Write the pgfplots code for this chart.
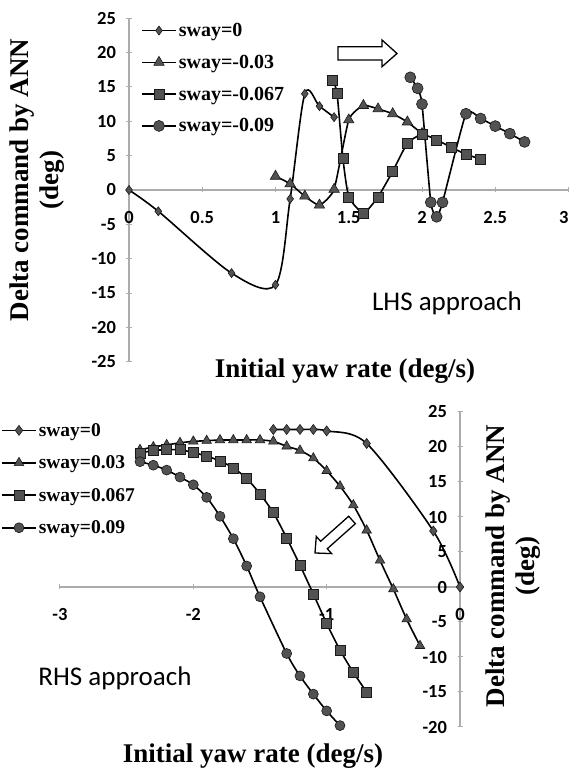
\documentclass[border=0pt]{standalone}
\usepackage{pgfplots}
\pgfplotsset{compat=1.18}
\usepackage{fontspec}
\setmainfont{Liberation Serif}
\newfontfamily\carlito{Carlito}

\tikzset{mymark/.style={fill=black!68, draw=black!90, line width=0.6pt, solid}}
\newcommand{\legfont}{\bfseries\fontsize{20}{24}\selectfont}
\newcommand{\legfontb}{\bfseries\fontsize{19.5}{23}\selectfont}
\pgfplotsset{
  myline/.style={black, line width=1.6pt},
  common/.style={
    scale only axis, clip=false,
    hide obscured x ticks=false, hide obscured y ticks=false,
    axis line style={gray!65, line width=1.2pt},
    tick style={gray!65, line width=1pt}, major tick length=5pt, tick align=center,
    tick label style={font=\carlito\bfseries\fontsize{18.5}{21}\selectfont},
    /pgf/number format/assume math mode=true,
    label style={font=\bfseries\fontsize{27}{30}\selectfont},
    legend image code/.code={\draw[mark repeat=2,mark phase=2,##1] plot coordinates {(0pt,0pt) (17pt,0pt) (34pt,0pt)};},
  },
}

\begin{document}
\begin{tikzpicture}[x=1pt,y=1pt]
\path[use as bounding box] (0,0) rectangle (570,768);

% ---------------- LHS approach ----------------
\begin{axis}[common,
  at={(129pt,406.25pt)}, anchor=south west,
  width=439.5pt, height=343.5pt,
  xmin=0, xmax=3, ymin=-25, ymax=25,
  axis x line*=middle, axis y line*=left,
  xtick={0,0.5,1,1.5,2,2.5,3}, xticklabels={0,0.5,1,1.5,2,2.5,\makebox[0pt][r]{3}},
  ytick={-25,-20,-15,-10,-5,0,5,10,15,20,25},
  yticklabels={-25,-20,-15,-10,-5,0,5,10,15,20,25},
  xticklabel style={yshift=-15pt},
  yticklabel style={xshift=-7pt},
  xlabel={Initial yaw rate (deg/s)},
  xlabel style={at={(axis description cs:0.4915,-0.027)}, anchor=center},
  ylabel={Delta command by ANN\\(deg)},
  ylabel style={at={(axis description cs:-0.2093,0.529)}, anchor=center, align=center},
  legend style={draw=none, fill=none, font=\legfont,
    at={(axis description cs:0.0205,0.998)}, anchor=north west,
    row sep=13pt, cells={anchor=west}},
]
\addplot[myline, smooth, mark=diamond*, mark size=4.5pt, mark options={mymark}] coordinates {
(0,0) (0.2,-3.1) (0.7,-12.1) (1.0,-13.8) (1.1,-1.3) (1.2,14.0) (1.3,12.2) (1.4,10.6)};
\addlegendentry{\legfont sway=0}
\addplot[myline, smooth, tension=0.3, mark=triangle*, mark size=6pt, mark options={mymark}] coordinates {
(1.0,2.0) (1.1,0.9) (1.2,-0.9) (1.3,-2.2) (1.4,0.1) (1.5,10.2) (1.6,12.3) (1.7,11.8) (1.8,11.1) (1.9,9.9) (2.0,8.2)};
\addlegendentry{\legfont sway=-0.03}
\addplot[myline, smooth, tension=0.3, mark=square*, mark size=5pt, mark options={mymark}] coordinates {
(1.39,16.0) (1.42,14.1) (1.46,4.6) (1.5,-1.0) (1.6,-3.4) (1.7,-1.0) (1.8,2.7) (1.9,6.8) (2.0,8.1) (2.1,7.3) (2.2,6.2) (2.3,5.2) (2.4,4.5)};
\addlegendentry{\legfont sway=-0.067}
\addplot[myline, smooth, tension=0.3, mark=*, mark size=5.5pt, mark options={mymark}] coordinates {
(1.92,16.4) (1.97,14.8) (2.0,12.5) (2.06,-1.8) (2.1,-3.9) (2.14,-1.8) (2.3,11.1) (2.4,10.4) (2.5,9.3) (2.6,8.2) (2.7,7.0)};
\addlegendentry{\legfont sway=-0.09}
\node[font=\carlito\fontsize{27}{32}\selectfont] at (axis description cs:0.7235,0.171) {LHS approach};
\end{axis}

% ---------------- RHS approach ----------------
\begin{axis}[common,
  at={(60pt,41pt)}, anchor=south west,
  width=400pt, height=315pt,
  xmin=-3, xmax=0, ymin=-20, ymax=25,
  axis x line*=middle, axis y line*=middle,
  xtick={-3,-2,-1,0}, xticklabels={-3,-2,-1,0},
  ytick={-20,-15,-10,-5,0,5,10,15,20,25},
  yticklabels={-20,-15,-10,-5,0,5,10,15,20,25},
  xticklabel style={yshift=-15pt},
  yticklabel style={xshift=-7pt},
  xlabel={Initial yaw rate (deg/s)},
  xlabel style={at={(axis description cs:0.4825,-0.092)}, anchor=center},
  ylabel={Delta command by ANN\\(deg)},
  ylabel style={at={(axis description cs:1.1325,0.511)}, anchor=center, align=center},
  legend style={draw=none, fill=none, font=\legfontb,
    at={(axis description cs:-0.155,0.978)}, anchor=north west,
    row sep=14pt, cells={anchor=west}},
]
\addplot[myline, smooth, mark=diamond*, mark size=5pt, mark options={mymark}] coordinates {
(-1.4,22.5) (-1.3,22.5) (-1.2,22.5) (-1.1,22.5) (-1.0,22.3) (-0.7,20.5) (-0.2,8.0) (0,0)};
\addlegendentry{\legfontb sway=0}
\addplot[myline, smooth, mark=triangle*, mark size=5.5pt, mark options={mymark}] coordinates {
(-2.4,19.6) (-2.3,20.0) (-2.2,20.3) (-2.1,20.6) (-2.0,20.8) (-1.9,20.9) (-1.8,21.0) (-1.7,21.0) (-1.6,21.0) (-1.5,21.0) (-1.4,20.8) (-1.3,20.1) (-1.2,19.5) (-1.1,18.4) (-1.0,16.6) (-0.9,14.4) (-0.8,11.7) (-0.7,8.1) (-0.6,3.8) (-0.5,-0.3) (-0.4,-4.6) (-0.3,-8.4)};
\addlegendentry{\legfontb sway=0.03}
\addplot[myline, smooth, mark=square*, mark size=5pt, mark options={mymark}] coordinates {
(-2.4,19.1) (-2.3,19.5) (-2.2,19.6) (-2.1,19.6) (-2.0,19.2) (-1.9,18.7) (-1.8,18.0) (-1.7,17.0) (-1.6,15.5) (-1.5,13.3) (-1.4,10.6) (-1.3,7.0) (-1.2,3.1) (-1.1,-1.0) (-1.0,-5.2) (-0.9,-9.0) (-0.8,-12.2) (-0.7,-15.0)};
\addlegendentry{\legfontb sway=0.067}
\addplot[myline, smooth, mark=*, mark size=5pt, mark options={mymark}] coordinates {
(-2.4,17.9) (-2.3,17.4) (-2.2,16.7) (-2.1,15.7) (-2.0,14.6) (-1.9,12.8) (-1.8,10.1) (-1.7,6.9) (-1.6,3.0) (-1.5,-1.4) (-1.3,-9.5) (-1.2,-12.7) (-1.1,-15.3) (-1.0,-17.7) (-0.9,-19.8)};
\addlegendentry{\legfontb sway=0.09}
\node[font=\carlito\fontsize{27}{32}\selectfont] at (axis description cs:0.1375,0.1556) {RHS approach};
\end{axis}

% hollow arrows
\draw[line width=1.3pt, fill=white] (338,708) -- (382,708) -- (382,701.3) -- (397,714.5) -- (382,728) -- (382,721.3) -- (338,721.3) -- cycle;
\begin{scope}[shift={(333.5,231.5)}, rotate=221.7]
\draw[line width=1.3pt, fill=white] (-24.8,-5) -- (12.8,-5) -- (12.8,-11.5) -- (24.8,0) -- (12.8,11.5) -- (12.8,5) -- (-24.8,5) -- cycle;
\end{scope}
\end{tikzpicture}
\end{document}
